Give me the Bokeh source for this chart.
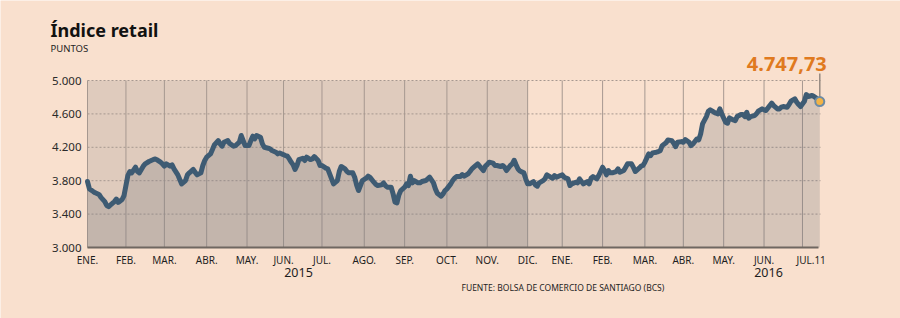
from bokeh.plotting import figure
from bokeh.models import Range1d, Label, BoxAnnotation
from bokeh.core.properties import value
from bokeh.embed import file_html
from bokeh.resources import INLINE

# ---------------- data (trading-day index, points) ----------------
days = [0, 1, 3, 4, 6, 7, 9, 10, 11, 12, 14, 15, 16, 18, 19, 20, 21, 22, 23, 25,
        26, 27, 29, 30, 32, 34, 35, 36, 38, 39, 40, 41, 43, 44, 45, 47, 48, 49, 51, 52,
        53, 55, 56, 57, 59, 60, 61, 62, 64, 65, 66, 68, 69, 70, 71, 73, 74, 75, 76, 77,
        79, 80, 81, 82, 84, 85, 86, 87, 88, 90, 91, 92, 94, 95, 96, 98, 99, 100, 101, 103,
        104, 105, 106, 107, 108, 109, 110, 112, 113, 114, 116, 117, 118, 120, 121, 122, 124, 125, 126, 127,
        128, 130, 131, 132, 134, 135, 136, 138, 139, 140, 141, 142, 143, 145, 146, 147, 149, 150, 151, 153,
        154, 155, 156, 158, 159, 160, 161, 162, 163, 165, 166, 167, 168, 169, 170, 172, 173, 174, 176, 177,
        178, 180, 181, 182, 184, 185, 186, 187, 189, 190, 191, 192, 194, 195, 196, 198, 199, 200, 201, 203,
        204, 206, 207, 208, 209, 211, 212, 213, 215, 216, 217, 218, 220, 221, 222, 223, 224, 225, 227, 228,
        229, 230, 232, 233, 234, 235, 237, 238, 239, 241, 242, 243, 244, 246, 247, 248, 250, 251, 252, 254,
        255, 256, 257, 258, 260, 261, 262, 263, 265, 266, 268, 269, 270, 271, 272, 273, 275, 276, 277, 279,
        280, 281, 283, 284, 285, 287, 288, 289, 290, 292, 293, 294, 296, 297, 298, 299, 301, 302, 304, 305,
        306, 307, 309, 310, 311, 313, 314, 315, 317, 318, 319, 320, 322, 323, 324, 326, 327, 328, 329, 330,
        332, 333, 334, 336, 337, 338, 340, 341, 342, 343, 344, 345, 347, 348, 349, 351, 352, 353, 355, 356,
        357, 359, 360, 361, 362, 364, 365, 366, 368, 369, 370, 371, 373, 374, 375, 377, 378, 379, 381]

valores = [3790, 3702, 3670, 3655, 3635, 3600, 3550, 3503, 3490, 3510, 3550, 3580, 3540, 3575, 3622, 3742, 3862, 3910, 3894, 3962,
           3910, 3894, 3974, 4002, 4030, 4050, 4061, 4053, 4022, 4002, 3974, 4002, 3974, 3990, 3942, 3870, 3814, 3762, 3802, 3870,
           3894, 3934, 3902, 3870, 3894, 3982, 4042, 4082, 4121, 4173, 4229, 4281, 4241, 4213, 4261, 4281, 4245, 4229, 4213, 4221,
           4261, 4341, 4281, 4221, 4221, 4281, 4333, 4301, 4341, 4321, 4241, 4201, 4189, 4181, 4161, 4141, 4121, 4133, 4121, 4101,
           4093, 4061, 4022, 3990, 3934, 3982, 4053, 4069, 4042, 4082, 4053, 4061, 4089, 4042, 3982, 3982, 3950, 3942, 3882, 3822,
           3762, 3802, 3910, 3970, 3942, 3910, 3894, 3894, 3842, 3750, 3682, 3742, 3802, 3830, 3854, 3840, 3782, 3756, 3742, 3750,
           3774, 3742, 3722, 3722, 3642, 3543, 3535, 3630, 3682, 3722, 3762, 3742, 3854, 3774, 3802, 3774, 3774, 3790, 3802, 3822,
           3842, 3774, 3702, 3650, 3614, 3642, 3682, 3702, 3762, 3802, 3830, 3850, 3850, 3874, 3854, 3882, 3910, 3942, 3962, 4002,
           3974, 3922, 3974, 3994, 4022, 4010, 3982, 3982, 3970, 3982, 3962, 3922, 3982, 4002, 4045, 3990, 3940, 3915, 3894, 3822,
           3762, 3762, 3790, 3750, 3734, 3774, 3802, 3822, 3870, 3842, 3830, 3862, 3842, 3862, 3870, 3842, 3822, 3742, 3762, 3782,
           3774, 3822, 3790, 3762, 3790, 3762, 3830, 3850, 3822, 3862, 3962, 3922, 3870, 3922, 3894, 3894, 3910, 3942, 3902, 3922,
           3962, 4002, 4002, 3962, 3910, 3950, 3974, 3982, 4022, 4121, 4101, 4133, 4141, 4149, 4160, 4220, 4255, 4288, 4280, 4248,
           4208, 4260, 4268, 4260, 4292, 4260, 4220, 4240, 4300, 4288, 4360, 4480, 4568, 4632, 4648, 4620, 4608, 4600, 4660, 4600,
           4500, 4488, 4552, 4528, 4520, 4568, 4592, 4592, 4568, 4620, 4548, 4568, 4580, 4600, 4632, 4660, 4648, 4640, 4700, 4728,
           4700, 4660, 4660, 4680, 4688, 4680, 4712, 4752, 4780, 4740, 4712, 4688, 4752, 4832, 4808, 4820, 4808, 4792, 4747.73]

month_start_days = [0, 20, 40, 62, 83, 102, 122, 144, 165, 187, 208, 229,
                    247, 268, 290, 310, 331, 352, 372]
month_labels = ["ENE.", "FEB.", "MAR.", "ABR.", "MAY.", "JUN.", "JUL.", "AGO.", "SEP.", "OCT.", "NOV.", "DIC.",
                "ENE.", "FEB.", "MAR.", "ABR.", "MAY.", "JUN.", "JUL.11"]
y_ticks = [3000, 3400, 3800, 4200, 4600, 5000]
y_tick_labels = ["3.000", "3.400", "3.800", "4.200", "4.600", "5.000"]
shaded_end_day = 229
year_labels = ["2015", "2016"]

title = "Índice retail"
subtitle = "PUNTOS"
source = "FUENTE: BOLSA DE COMERCIO DE SANTIAGO (BCS)"

# ---------------- layout (pixel geometry of the plotting box) ----------------
W, H = 900, 318
FL, FT, FB = 87, 80, 247          # left, top (5.000) and bottom (3.000) of the box
GRID_R = 820                      # right end of the horizontal grid / axis line
PX_PER_DAY = 1.922
Y0, Y1 = y_ticks[0], y_ticks[-1]
PX_PER_UNIT = (FB - FT) / (Y1 - Y0)
LAST_LABEL_SHIFT = 4.5            # days; keeps "JUL." of "JUL.11" on its gridline


def px2x(px):
    return (px - FL) / PX_PER_DAY


def py2y(py):
    return Y0 + (FB - py) / PX_PER_UNIT


BG = "#F9E0CE"
BOX15 = "#DFCBBD"
GRID = "#A69890"
TXT = "#1E1E1E"
FONT = "Noto Sans"

p = figure(width=W, height=H,
           x_range=Range1d(px2x(0), px2x(W)), y_range=Range1d(py2y(H), py2y(0)),
           x_axis_type=None, y_axis_type=None,
           output_backend="svg", toolbar_location=None,
           min_border=0)
p.background_fill_color = BG
p.border_fill_color = BG
p.outline_line_color = None
p.grid.visible = False

# 2015 shaded period
p.add_layout(BoxAnnotation(left=0, right=shaded_end_day, bottom=Y0, top=Y1,
                           fill_color=BOX15, fill_alpha=1.0, line_color=None, level="image"))

# grid lines from the tick arrays
x_right = px2x(GRID_R)
p.segment(x0=month_start_days, y0=Y0, x1=month_start_days, y1=Y1,
          line_color=GRID, line_width=1)
p.segment(x0=0, y0=y_ticks[1:], x1=x_right, y1=y_ticks[1:],
          line_color=GRID, line_width=1, line_dash="2 2")

# series
p.varea(x=days, y1=Y0, y2=valores, fill_color="#6E737D", fill_alpha=0.25)
p.line(days, valores, line_color="#3E5B73", line_width=5, line_join="round", line_cap="round")

# x axis line
p.segment(x0=[0], y0=[Y0], x1=[px2x(818)], y1=[Y0], line_color="#6F6761", line_width=2)

# leader line + end point
p.segment(x0=[days[-1]], y0=[py2y(73)], x1=[days[-1]], y1=[valores[-1]],
          line_color="#968A80", line_width=1.5)
p.scatter([days[-1]], [valores[-1]], size=9, fill_color="#F3B345",
          line_color="#6D8BA5", line_width=2)

# axis tick labels (vertically centred on the cap height)
label_pos = month_start_days[:-1] + [month_start_days[-1] + LAST_LABEL_SHIFT]
p.text(x=label_pos, y=py2y(259.5), text=month_labels, text_align="center",
       text_baseline="middle", text_font=value(FONT), text_font_size="10px",
       text_color=TXT)
p.text(x=0, y=y_ticks, text=y_tick_labels, x_offset=-6, text_align="right",
       text_baseline="middle", text_font=value(FONT), text_font_size="11.5px",
       text_color="#2A2A2A")

# value label
val_txt = f"{valores[-1]:,.2f}".replace(",", "X").replace(".", ",").replace("X", ".")
p.add_layout(Label(x=days[-1], y=py2y(63), text=val_txt, x_offset=7,
                   text_align="right", text_baseline="middle",
                   text_font=FONT, text_font_style="bold", text_font_size="20px",
                   text_color="#E07A1F"))

# year labels
for lab, px in zip(year_labels, [298, 768]):
    p.add_layout(Label(x=px2x(px), y=py2y(272), text=lab, text_align="center",
                       text_baseline="middle", text_font=FONT, text_font_size="12.5px",
                       text_color=TXT))

# title, subtitle, source
p.add_layout(Label(x=px2x(50), y=py2y(29.8), text=title, text_align="left",
                   text_baseline="middle", text_font=FONT, text_font_style="bold",
                   text_font_size="18px", text_color="#111111"))
p.add_layout(Label(x=px2x(50), y=py2y(48.3), text=subtitle, text_align="left",
                   text_baseline="middle", text_font=FONT, text_font_size="9.5px",
                   text_color=TXT))
p.add_layout(Label(x=px2x(461), y=py2y(286.5), text=source, text_align="left",
                   text_baseline="middle", text_font=FONT, text_font_size="8.5px",
                   text_color=TXT))

open("out.html", "w").write(file_html(p, INLINE))
